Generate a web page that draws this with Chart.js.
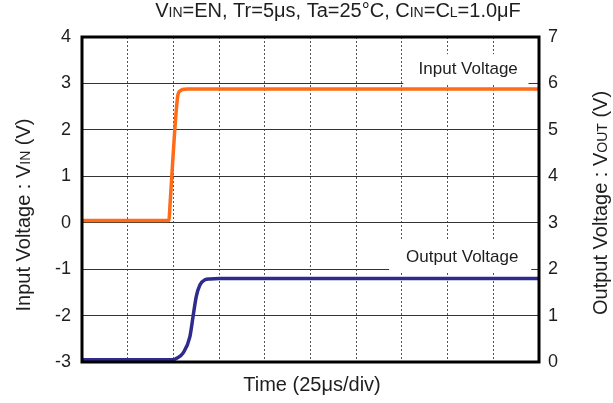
<!DOCTYPE html>
<html>
<head>
<meta charset="utf-8">
<script src="https://cdn.jsdelivr.net/npm/chart.js@4"></script>
<style>
    html, body { margin: 0; padding: 0; background: #fff; }
    #wrap { width: 613px; height: 403px; }
</style>
</head>
<body>
<div id="wrap"><canvas id="myChart" width="613" height="403"></canvas></div>
<script>
// time in divisions (25us/div)
var inTime  = [0, 1.90, 1.93, 1.96, 2.03, 2.10, 2.15, 2.20, 2.30, 10];
var inVolt  = [0.05, 0.05, 0.45, 0.92, 2.00, 2.76, 2.84, 2.87, 2.88, 2.88];
var outTime = [0, 2.00, 2.07, 2.21, 2.36, 2.43, 2.50, 2.58, 2.69, 2.80, 3.00, 10];
var outVolt = [0.05, 0.05, 0.08, 0.19, 0.54, 0.98, 1.41, 1.66, 1.77, 1.79, 1.80, 1.80];

var leftRange  = [-3, 4];
var rightRange = [0, 7];
var timeRange  = [0, 10];

var FONT = '"Liberation Sans", Arial, sans-serif';
var TEXT = '#1e1e1e';

function toPoints(xs, ys) {
    return xs.map(function (x, i) { return { x: x, y: ys[i] }; });
}

// text with small capitals for VIN, VOUT, CL
function drawRich(ctx, segs, cx, cy, rot) {
    ctx.save();
    ctx.translate(cx, cy);
    ctx.rotate(rot || 0);
    var w = 0;
    segs.forEach(function (s) {
        ctx.font = s[1] + 'px ' + FONT;
        w += ctx.measureText(s[0]).width;
    });
    var x = -w / 2;
    ctx.fillStyle = TEXT;
    ctx.textBaseline = 'alphabetic';
    ctx.textAlign = 'left';
    segs.forEach(function (s) {
        ctx.font = s[1] + 'px ' + FONT;
        ctx.fillText(s[0], x, 7);
        x += ctx.measureText(s[0]).width;
    });
    ctx.restore();
}

var labelBoxes = [
    { text: 'Input Voltage',  axis: 'y',  x0: 7.03, x1: 9.77, y0: 2.97, y1: 3.63, tx: 8.45, ty: 3.31 },
    { text: 'Output Voltage', axis: 'y1', x0: 6.72, x1: 9.83, y0: 1.94, y1: 2.63, tx: 8.32, ty: 2.25 }
];

var decorations = {
    id: 'decorations',
    beforeDatasetsDraw: function (chart) {
        var ctx = chart.ctx, xs = chart.scales.x;
        ctx.save();
        labelBoxes.forEach(function (b) {
            var ys = chart.scales[b.axis];
            var l = xs.getPixelForValue(b.x0), r = xs.getPixelForValue(b.x1);
            var t = ys.getPixelForValue(b.y1), btm = ys.getPixelForValue(b.y0);
            ctx.fillStyle = '#fff';
            ctx.fillRect(l, t, r - l, btm - t);
            ctx.fillStyle = TEXT;
            ctx.font = '17px ' + FONT;
            ctx.textAlign = 'center';
            ctx.textBaseline = 'middle';
            ctx.fillText(b.text, xs.getPixelForValue(b.tx), ys.getPixelForValue(b.ty));
        });
        ctx.restore();
    },
    afterDatasetsDraw: function (chart) {
        var ctx = chart.ctx, a = chart.chartArea;
        ctx.save();
        ctx.strokeStyle = '#000';
        ctx.lineWidth = 3;
        ctx.strokeRect(a.left, a.top, a.right - a.left, a.bottom - a.top);
        ctx.restore();
    },
    afterDraw: function (chart) {
        var ctx = chart.ctx;
        drawRich(ctx, [['V', 20], ['IN', 14], ['=EN, Tr=5μs, Ta=25°C, C', 20], ['IN', 14],
            ['=C', 20], ['L', 14], ['=1.0μF', 20]], 338, 10, 0);
        drawRich(ctx, [['Input Voltage : V', 20], ['IN', 14], [' (V)', 20]], 23, 215, -Math.PI / 2);
        drawRich(ctx, [['Output Voltage : V', 20], ['OUT', 14], [' (V)', 20]], 600, 203, -Math.PI / 2);
        drawRich(ctx, [['Time (25μs/div)', 20]], 312, 384, 0);
    }
};

var ctx = document.getElementById('myChart').getContext('2d');
var myChart = new Chart(ctx, {
    type: 'line',
    data: {
        datasets: [{
            label: 'Input Voltage',
            data: toPoints(inTime, inVolt),
            yAxisID: 'y',
            borderColor: '#FF6B17',
            borderWidth: 3.5,
            pointRadius: 0,
            cubicInterpolationMode: 'monotone',
            borderJoinStyle: 'round'
        }, {
            label: 'Output Voltage',
            data: toPoints(outTime, outVolt),
            yAxisID: 'y1',
            borderColor: '#2F2A8E',
            borderWidth: 3.5,
            pointRadius: 0,
            cubicInterpolationMode: 'monotone',
            borderJoinStyle: 'round'
        }]
    },
    options: {
        responsive: false,
        animation: false,
        layout: { padding: { top: 37 } },
        plugins: { legend: { display: false }, tooltip: { enabled: false } },
        scales: {
            x: {
                type: 'linear',
                min: timeRange[0], max: timeRange[1],
                ticks: { display: false, stepSize: 1 },
                grid: { color: '#555', lineWidth: 1, drawTicks: false },
                border: { display: false, dash: [2, 2] },
                afterFit: function (s) { s.height = 41; }
            },
            y: {
                position: 'left',
                min: leftRange[0], max: leftRange[1],
                ticks: { stepSize: 1, padding: 11, color: TEXT, font: { family: FONT, size: 18 } },
                grid: { color: '#333', lineWidth: 1, drawTicks: false },
                border: { display: false },
                afterFit: function (s) { s.width = 82; }
            },
            y1: {
                position: 'right',
                min: rightRange[0], max: rightRange[1],
                ticks: { stepSize: 1, padding: 9, color: TEXT, font: { family: FONT, size: 18 } },
                grid: { display: false, drawTicks: false },
                border: { display: false },
                afterFit: function (s) { s.width = 74; }
            }
        }
    },
    plugins: [decorations]
});
</script>
</body>
</html>
